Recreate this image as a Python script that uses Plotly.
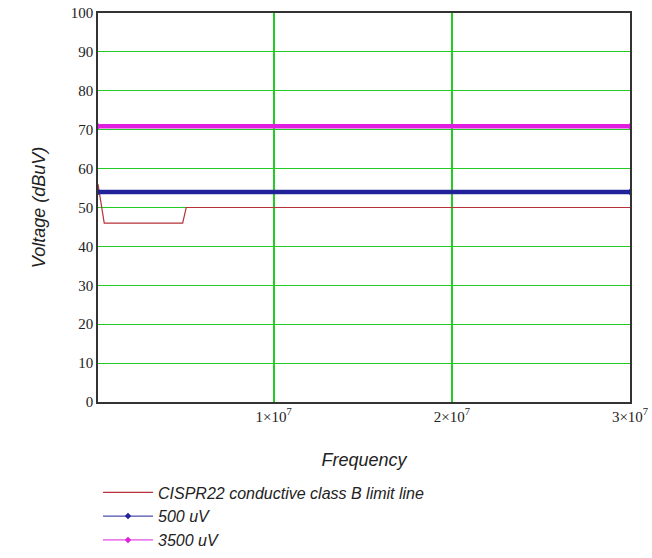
import plotly.graph_objects as go

# Data
limit_freq = [1.5e5, 5e5, 4.9e6, 5.1e6, 3e7]
limit_dbuv = [56, 46, 46, 50, 50]

line_freq = [1.5e5, 3e7]
v500_dbuv = [53.98, 53.98]
v3500_dbuv = [70.88, 70.88]

x_tickvals = [1e7, 2e7, 3e7]
x_ticktext = ["1×10<sup>7</sup>", "2×10<sup>7</sup>", "3×10<sup>7</sup>"]
y_tickvals = list(range(0, 101, 10))

BLUE = "#22229a"
MAG = "#e020e0"
RED = "#b5323a"
GRID = "#22cc22"

fig = go.Figure()
fig.add_trace(go.Scatter(
    x=limit_freq, y=limit_dbuv, mode="lines",
    name="<i>CISPR22 conductive class B limit line</i>",
    line=dict(color=RED, width=1.2),
))
# thick bands (plot only)
fig.add_trace(go.Scatter(
    x=line_freq, y=v500_dbuv, mode="lines", showlegend=False,
    line=dict(color=BLUE, width=4.5), hoverinfo="skip",
))
fig.add_trace(go.Scatter(
    x=line_freq, y=v3500_dbuv, mode="lines", showlegend=False,
    line=dict(color=MAG, width=4.5), hoverinfo="skip",
))
# legend entries with thin line + markers
fig.add_trace(go.Scatter(
    x=line_freq, y=v500_dbuv, mode="lines+markers",
    name="<i>500 uV</i>",
    line=dict(color=BLUE, width=1),
    marker=dict(symbol="diamond", size=5, color=BLUE),
))
fig.add_trace(go.Scatter(
    x=line_freq, y=v3500_dbuv, mode="lines+markers",
    name="<i>3500 uV</i>",
    line=dict(color=MAG, width=1),
    marker=dict(symbol="diamond", size=5, color=MAG),
))

fig.update_layout(
    width=652, height=558,
    margin=dict(l=98, r=22, t=13, b=156),
    paper_bgcolor="white", plot_bgcolor="white",
    template="none",
    showlegend=True,
    legend=dict(
        xref="paper", x=0, xanchor="left",
        yref="container", y=0.148, yanchor="top",
        font=dict(family="Liberation Sans", size=16, color="#222"),
        bgcolor="rgba(0,0,0,0)", tracegroupgap=0, itemwidth=50,
    ),
    xaxis=dict(
        range=[1.5e5, 3e7], automargin=False,
        tickvals=x_tickvals, ticktext=x_ticktext,
        showgrid=True, gridcolor=GRID, gridwidth=2,
        showline=True, linecolor="#333", linewidth=1.5, mirror=True,
        ticks="", zeroline=False,
        tickfont=dict(family="Liberation Serif", size=15, color="#222"),
        title=dict(text="<i>Frequency</i>", standoff=30,
                   font=dict(family="Liberation Sans", size=18, color="#222")),
    ),
    yaxis=dict(
        range=[0, 100], automargin=False,
        tickvals=y_tickvals,
        showgrid=True, gridcolor=GRID, gridwidth=1,
        showline=True, linecolor="#333", linewidth=1.5, mirror=True,
        ticks="", zeroline=False,
        tickfont=dict(family="Liberation Serif", size=15, color="#222"),
        title=dict(text="<i>Voltage (dBuV)</i>", standoff=20,
                   font=dict(family="Liberation Sans", size=18, color="#222")),
    ),
)

fig.write_html("out.html")
